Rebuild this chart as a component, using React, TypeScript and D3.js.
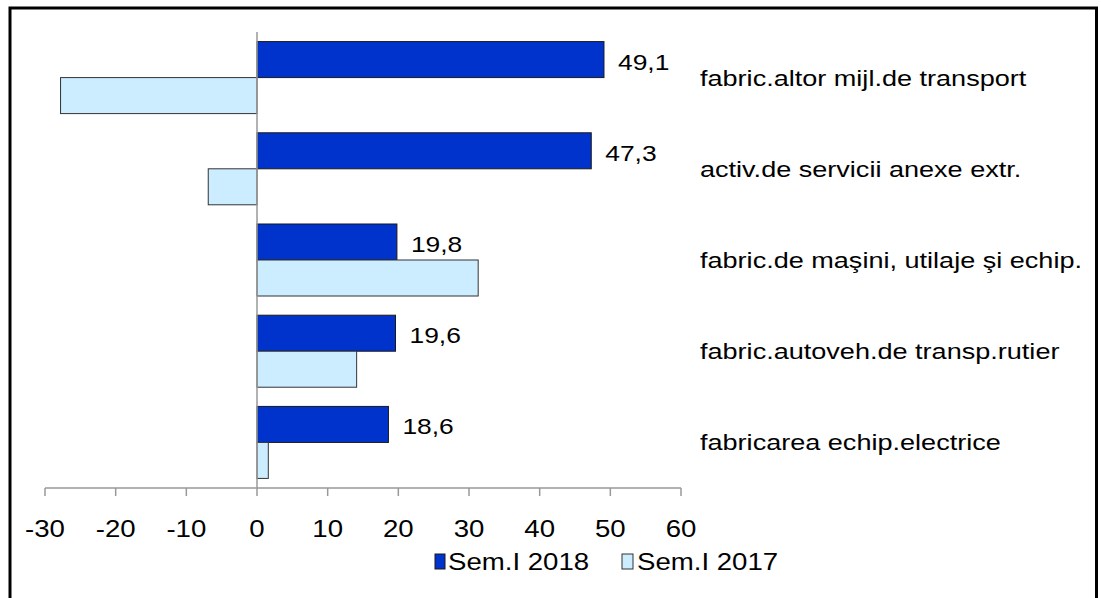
import React from "react";
import * as d3 from "d3";

const categories = [
  "fabric.altor mijl.de transport",
  "activ.de servicii anexe extr.",
  "fabric.de maşini, utilaje şi echip.",
  "fabric.autoveh.de transp.rutier",
  "fabricarea echip.electrice",
];
const series2018 = [49.1, 47.3, 19.8, 19.6, 18.6];
const series2017 = [-27.8, -6.9, 31.3, 14.1, 1.6];
const valueLabels2018 = ["49,1", "47,3", "19,8", "19,6", "18,6"];
const xTicks = [-30, -20, -10, 0, 10, 20, 30, 40, 50, 60];
const seriesNames = ["Sem.I 2018", "Sem.I 2017"];

const W = 1101;
const H = 598;
const FONT = "'Liberation Sans', Arial, sans-serif";
const FS = 22;
const SX = 1.2;
const DARK = "#0033CC";
const LIGHT = "#CCECFF";

export default function App() {
  const x = d3.scaleLinear().domain([-30, 60]).range([45, 681]);
  const y = d3
    .scaleBand<string>()
    .domain(categories)
    .range([32, 488])
    .paddingInner(0.2105)
    .paddingOuter(0.105);
  const inner = d3.scaleBand<string>().domain(seriesNames).range([0, y.bandwidth()]);
  const axisY = 488;

  const T = (props: { x: number; y: number; anchor?: string; children: React.ReactNode; fs?: number; sx?: number }) => (
    <text
      transform={`translate(${props.x},${props.y}) scale(${props.sx || SX},1)`}
      textAnchor={props.anchor || "start"}
      fontFamily={FONT}
      fontSize={props.fs || FS}
      fill="#000"
    >
      {props.children}
    </text>
  );

  return (
    <svg
      width={W}
      height={H}
      style={{ position: "absolute", left: 0, top: 0, background: "#fff" }}
    >
      <rect x={0} y={0} width={W} height={H} fill="#fff" />
      <rect x={10} y={8} width={1086.5} height={640} fill="none" stroke="#000" strokeWidth={3} />

      {categories.map((c, i) => {
        const y0 = y(c)!;
        const v1 = series2018[i];
        const v2 = series2017[i];
        const yd = y0 + inner(seriesNames[0])!;
        const yl = y0 + inner(seriesNames[1])!;
        const bh = inner.bandwidth();
        return (
          <g key={c}>
            <rect
              x={Math.min(x(0), x(v1))}
              y={yd}
              width={Math.abs(x(v1) - x(0))}
              height={bh}
              fill={DARK}
              stroke="#1a1a1a"
              strokeWidth={1}
            />
            <rect
              x={Math.min(x(0), x(v2))}
              y={yl}
              width={Math.abs(x(v2) - x(0))}
              height={bh}
              fill={LIGHT}
              stroke="#333"
              strokeWidth={1}
            />
            <T x={x(v1) + 14} y={yd + bh / 2 + 10}>{valueLabels2018[i]}</T>
            <T x={700} y={y0 + y.bandwidth() / 2 + 8} sx={1.23}>{c}</T>
          </g>
        );
      })}

      {/* vertical zero axis */}
      <line x1={x(0)} x2={x(0)} y1={32} y2={axisY} stroke="#999" strokeWidth={1.5} />
      {/* horizontal axis */}
      <line x1={x(-30)} x2={x(60)} y1={axisY} y2={axisY} stroke="#999" strokeWidth={1.5} />
      {xTicks.map((t) => (
        <g key={t}>
          <line x1={x(t)} x2={x(t)} y1={axisY} y2={axisY + 8} stroke="#999" strokeWidth={1.5} />
          <T x={x(t)} y={537} anchor="middle" fs={23}>{String(t)}</T>
        </g>
      ))}

      {/* legend */}
      <rect x={435} y={554} width={10} height={15} fill={DARK} stroke="#1a1a1a" strokeWidth={1} />
      <T x={448} y={570} fs={23}>{seriesNames[0]}</T>
      <rect x={622} y={554} width={11} height={15} fill={LIGHT} stroke="#333" strokeWidth={1} />
      <T x={637} y={570} fs={23}>{seriesNames[1]}</T>
    </svg>
  );
}
